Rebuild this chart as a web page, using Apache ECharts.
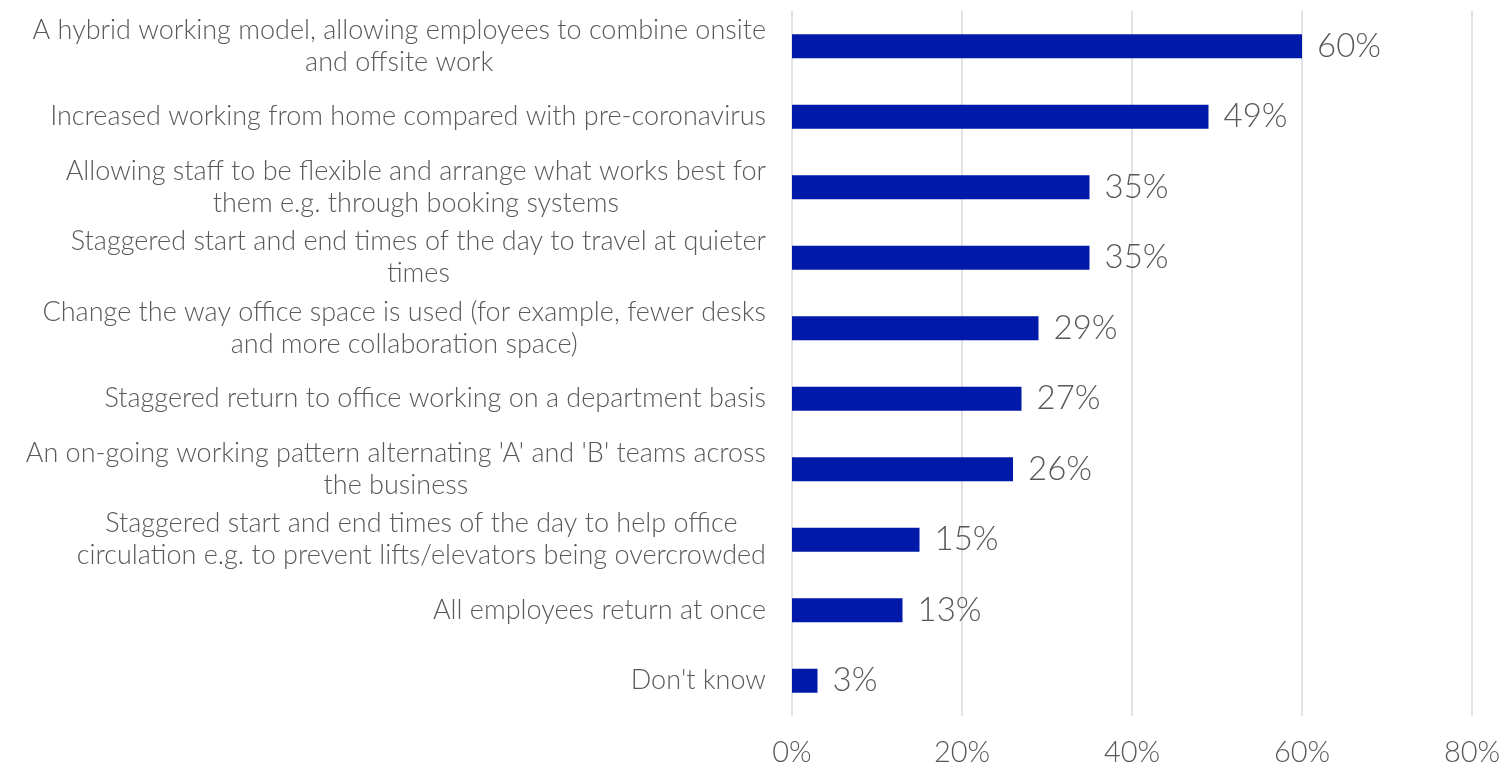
<!DOCTYPE html>
<html>
<head>
<meta charset="utf-8">
<script src="https://cdn.jsdelivr.net/npm/echarts@6/dist/echarts.min.js"></script>
<style>
  html, body { margin: 0; padding: 0; background: #ffffff; }
  #chart { width: 1505px; height: 768px; }
</style>
</head>
<body>
<div id="chart"></div>
<script>
// Return-to-office approaches, share of respondents (%)
const categories = [
  "A hybrid working model, allowing employees to combine onsite\nand offsite work",
  "Increased working from home compared with pre-coronavirus",
  "Allowing staff to be flexible and arrange what works best for\nthem e.g. through booking systems",
  "Staggered start and end times of the day to travel at quieter\ntimes",
  "Change the way office space is used (for example, fewer desks\nand more collaboration space)",
  "Staggered return to office working on a department basis",
  "An on-going working pattern alternating 'A' and 'B' teams across\nthe business",
  "Staggered start and end times of the day to help office\ncirculation e.g. to prevent lifts/elevators being overcrowded",
  "All employees return at once",
  "Don't know"
];
const values = [60, 49, 35, 35, 29, 27, 26, 15, 13, 3];
const xTicks = [0, 20, 40, 60, 80];

const FONT = 'Lato, "Open Sans", sans-serif';
const GREY = '#595959';
const WEIGHT = 300;

const chart = echarts.init(document.getElementById('chart'));
chart.setOption({
  backgroundColor: '#ffffff',
  animation: false,
  grid: { left: 792, right: 33, top: 11, bottom: 52, containLabel: false },
  xAxis: {
    type: 'value',
    min: xTicks[0],
    max: xTicks[xTicks.length - 1],
    interval: xTicks[1] - xTicks[0],
    axisLine: { show: false },
    axisTick: { show: false },
    splitLine: { show: true, lineStyle: { color: '#d9d9d9', width: 1.5 } },
    axisLabel: {
      color: GREY, fontFamily: FONT, fontWeight: WEIGHT, fontSize: 29, margin: 22,
      formatter: v => v + '%'
    }
  },
  yAxis: {
    type: 'category',
    inverse: true,
    data: categories,
    axisLine: { show: false },
    axisTick: { show: false },
    axisLabel: {
      color: GREY, fontFamily: FONT, fontWeight: WEIGHT, fontSize: 27, margin: 26,
      lineHeight: 32,
      align: 'right',
      formatter: v => v.split('\n').map(s => '{c|' + s + '}').join('\n'),
      rich: { c: { align: 'center', color: GREY, fontFamily: FONT, fontWeight: WEIGHT, fontSize: 27, lineHeight: 32 } }
    }
  },
  series: [{
    type: 'bar',
    data: values,
    barWidth: 24,
    itemStyle: { color: '#0019a8' },
    label: {
      show: true, position: 'right', distance: 15,
      color: GREY, fontFamily: FONT, fontWeight: WEIGHT, fontSize: 33,
      formatter: p => p.value + '%'
    }
  }]
});
</script>
</body>
</html>
